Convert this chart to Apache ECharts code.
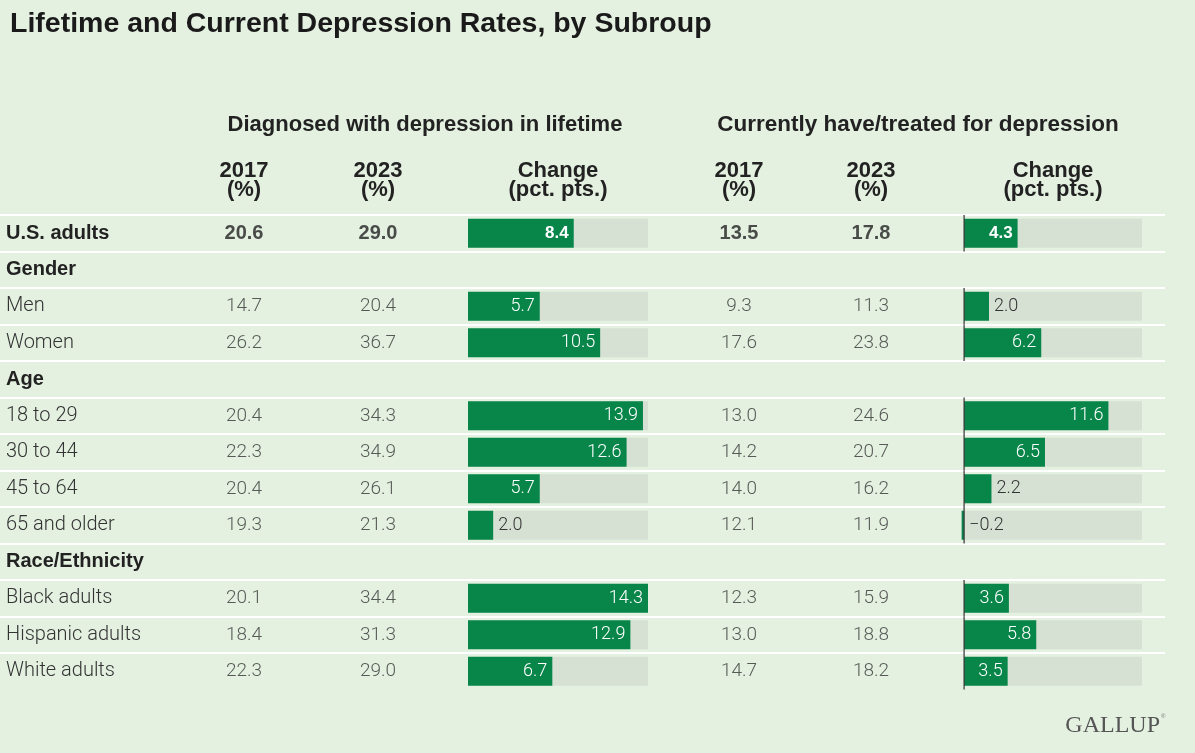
<!DOCTYPE html>
<html>
<head>
<meta charset="utf-8">
<title>Lifetime and Current Depression Rates, by Subroup</title>
<script src="https://cdn.jsdelivr.net/npm/echarts@6/dist/echarts.min.js"></script>
<style>
  html, body { margin: 0; padding: 0; background: #e4f1e1; }
  #chart { width: 1195px; height: 753px; }
</style>
</head>
<body>
<div id="chart"></div>
<script>
(function () {
  'use strict';

  // table rows, top to bottom; group captions carry no values
  const ROWS = ['U.S. adults', 'Gender', 'Men', 'Women', 'Age', '18 to 29', '30 to 44', '45 to 64',
                '65 and older', 'Race/Ethnicity', 'Black adults', 'Hispanic adults', 'White adults'];
  const HEAD_ROWS = ['Gender', 'Age', 'Race/Ethnicity'];
  const BOLD_ROWS = ['U.S. adults'];

  const LIFE_2017   = [20.6, null, 14.7, 26.2, null, 20.4, 22.3, 20.4, 19.3, null, 20.1, 18.4, 22.3];
  const LIFE_2023   = [29.0, null, 20.4, 36.7, null, 34.3, 34.9, 26.1, 21.3, null, 34.4, 31.3, 29.0];
  const LIFE_CHANGE = [8.4,  null, 5.7,  10.5, null, 13.9, 12.6, 5.7,  2.0,  null, 14.3, 12.9, 6.7];

  const CUR_2017    = [13.5, null, 9.3,  17.6, null, 13.0, 14.2, 14.0, 12.1, null, 12.3, 13.0, 14.7];
  const CUR_2023    = [17.8, null, 11.3, 23.8, null, 24.6, 20.7, 16.2, 11.9, null, 15.9, 18.8, 18.2];
  const CUR_CHANGE  = [4.3,  null, 2.0,  6.2,  null, 11.6, 6.5,  2.2,  -0.2, null, 3.6,  5.8,  3.5];

  const TITLE = 'Lifetime and Current Depression Rates, by Subroup';
  const GROUP_HEADERS = ['Diagnosed with depression in lifetime', 'Currently have/treated for depression'];
  const COLUMN_HEADERS = ['2017\n(%)', '2023\n(%)', 'Change\n(pct. pts.)'];
  const BAR_MAX = 14.3;      // full track length (pct. pts.)

  // layout
  const TOP = 215, ROW_H = 36.5;
  const TABLE_H = ROWS.length * ROW_H;
  const GREEN = '#08864a', TRACK = '#d6e0d3', INK = '#222', BODY = '#333';
  const SANS = '"Liberation Sans", Arial, sans-serif';
  const LIGHT = 'Roboto, "Liberation Sans", sans-serif';

  const isBold = r => HEAD_ROWS.includes(r) || BOLD_ROWS.includes(r);
  const fmt = v => (v < 0 ? '\u2212' + Math.abs(v).toFixed(1) : v.toFixed(1));

  // column centres: [2017, 2023, change]
  const LEFT_COLS = [244, 378, 558];
  const RIGHT_COLS = [739, 871, 1053];

  const grid = [], xAxis = [], yAxis = [], series = [];

  function rowAxis(gi, extra) {
    return Object.assign({ gridIndex: gi, type: 'category', data: ROWS, inverse: true, show: false }, extra || {});
  }

  // separator lines across the whole table (one on top of each row)
  grid.push({ left: 0, width: 1165, top: TOP, height: (ROWS.length - 1) * ROW_H });
  xAxis.push({ gridIndex: 0, type: 'value', show: false, min: 0, max: 1 });
  yAxis.push({
    gridIndex: 0, type: 'value', inverse: true, min: 0, max: ROWS.length - 1, interval: 1,
    axisLine: { show: false }, axisTick: { show: false }, axisLabel: { show: false },
    splitLine: { show: true, lineStyle: { color: '#ffffff', width: 2 } },
  });

  function textColumn(cx, vals) {
    const gi = grid.length;
    grid.push({ left: cx - 50, width: 100, top: TOP, height: TABLE_H });
    xAxis.push({ gridIndex: gi, type: 'category', data: ['v'], show: false });
    yAxis.push(rowAxis(gi));
    series.push({
      type: 'scatter', xAxisIndex: gi, yAxisIndex: gi, silent: true,
      symbolSize: 1, itemStyle: { color: 'transparent' },
      data: vals.map((v, i) => v == null ? null : {
        value: [0, i, v],
        label: isBold(ROWS[i])
          ? { fontFamily: SANS, fontWeight: 'bold', fontSize: 20, color: INK }
          : { fontFamily: LIGHT, fontWeight: 300, fontSize: 19, color: BODY },
      }).filter(Boolean),
      label: { show: true, position: 'inside', formatter: p => fmt(p.value[2]) },
    });
  }

  function barColumn(left, width, min, vals, yExtra, zeroLine) {
    const gi = grid.length;
    grid.push({ left: left, width: width, top: TOP, height: TABLE_H });
    xAxis.push({ gridIndex: gi, type: 'value', show: false, min: min, max: BAR_MAX });
    yAxis.push(rowAxis(gi, yExtra));
    series.push({
      type: 'bar', xAxisIndex: gi, yAxisIndex: gi, silent: true, barWidth: 29, barGap: '-100%',
      itemStyle: { color: TRACK },
      data: vals.map(v => v == null ? null : BAR_MAX),
    });
    series.push({
      type: 'bar', xAxisIndex: gi, yAxisIndex: gi, silent: true, barWidth: 29, barGap: '-100%',
      itemStyle: { color: GREEN },
      data: vals.map((v, i) => v == null ? null : {
        value: v,
        label: {
          show: true,
          position: Math.abs(v) < 3 ? 'right' : 'insideRight',
          distance: 5,
          color: Math.abs(v) < 3 ? BODY : '#ffffff',
          fontFamily: isBold(ROWS[i]) ? SANS : LIGHT,
          fontWeight: isBold(ROWS[i]) ? 'bold' : 300,
          fontSize: isBold(ROWS[i]) ? 17 : 18,
          formatter: p => fmt(p.value),
        },
      }),
    });
    if (zeroLine) {
      // baseline tick at zero, drawn only on rows that carry a value
      series.push({
        type: 'scatter', xAxisIndex: gi, yAxisIndex: gi, silent: true, z: 5,
        symbol: 'rect', symbolSize: [1.5, ROW_H], itemStyle: { color: '#333' },
        data: vals.map((v, i) => v == null ? null : [0, i]).filter(Boolean),
      });
    }
  }

  // lifetime block
  textColumn(LEFT_COLS[0], LIFE_2017);
  textColumn(LEFT_COLS[1], LIFE_2023);
  barColumn(468, 180, 0, LIFE_CHANGE, {
    show: true, axisLine: { show: false }, axisTick: { show: false },
    axisLabel: {
      show: true, interval: 0, align: 'left', margin: 462,
      formatter: v => (isBold(v) ? '{b|' + v + '}' : '{n|' + v + '}'),
      rich: {
        b: { fontFamily: SANS, fontWeight: 'bold', fontSize: 20, color: INK },
        n: { fontFamily: LIGHT, fontWeight: 300, fontSize: 20, color: BODY },
      },
    },
  }, false);

  // current block
  textColumn(RIGHT_COLS[0], CUR_2017);
  textColumn(RIGHT_COLS[1], CUR_2023);
  barColumn(961, 181, -0.25, CUR_CHANGE, { show: false }, true);

  const headText = (txt, x, y, size, lh) => ({
    type: 'text', x: x, y: y, silent: true,
    style: { text: txt, align: 'center', verticalAlign: 'middle', fill: INK,
             fontFamily: SANS, fontWeight: 'bold', fontSize: size, lineHeight: lh || size },
  });

  const graphic = [
    headText(GROUP_HEADERS[0], 425, 125, 22),
    headText(GROUP_HEADERS[1], 918, 125, 22.5),
  ];
  LEFT_COLS.forEach((x, k) => graphic.push(headText(COLUMN_HEADERS[k], x, 180, 22, 19)));
  RIGHT_COLS.forEach((x, k) => graphic.push(headText(COLUMN_HEADERS[k], x, 180, 22, 19)));
  graphic.push({
    type: 'text', x: 1160, y: 726, silent: true,
    style: { text: 'GALLUP', align: 'right', verticalAlign: 'middle', fill: '#555',
             fontFamily: '"Liberation Serif", "DejaVu Serif", serif', fontSize: 24 },
  });
  graphic.push({
    type: 'text', x: 1161, y: 716, silent: true,
    style: { text: '\u00ae', align: 'left', verticalAlign: 'middle', fill: '#777', fontSize: 6 },
  });

  const chart = echarts.init(document.getElementById('chart'), null, { renderer: 'canvas' });
  chart.setOption({
    backgroundColor: '#e4f1e1',
    animation: false,
    title: {
      text: TITLE, left: 5, top: 5,
      textStyle: { fontFamily: SANS, fontWeight: 'bold', fontSize: 28.5, color: '#1a1a1a' },
    },
    grid: grid, xAxis: xAxis, yAxis: yAxis, series: series, graphic: graphic,
  });
})();
</script>
</body>
</html>
